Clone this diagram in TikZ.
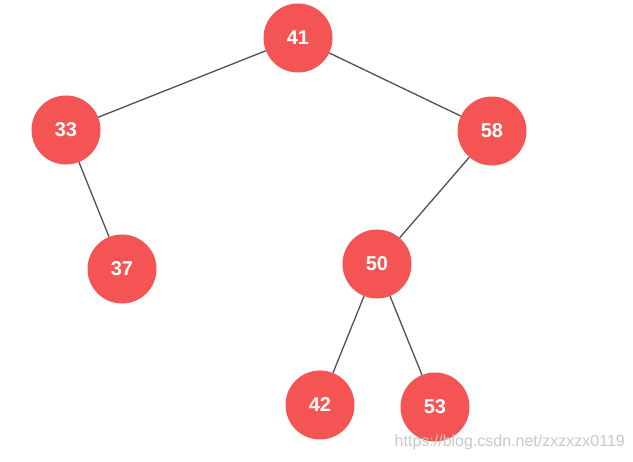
\documentclass[tikz,border=0pt]{standalone}
\usepackage{fontspec}
\setmainfont{Liberation Sans}
\definecolor{nodered}{RGB}{245,84,84}
\definecolor{edgegray}{RGB}{80,80,80}
\definecolor{wmgray}{RGB}{200,200,200}
\begin{document}
\begin{tikzpicture}[x=1pt,y=-1pt,
  tnode/.style={circle,fill=nodered,draw=none,minimum size=69pt,inner sep=0pt,
    text=white,font=\fontsize{20}{24}\selectfont\bfseries},
  edge/.style={draw=edgegray,line width=1.3pt}]
\useasboundingbox (0,0) rectangle (633,462);
\fill[white] (0,0) rectangle (633,462);
\node[tnode] (n41) at (298,38) {41};
\node[tnode] (n33) at (66,130) {33};
\node[tnode] (n58) at (492,131) {58};
\node[tnode] (n37) at (122,269) {37};
\node[tnode] (n50) at (377,264) {50};
\node[tnode] (n42) at (320,405) {42};
\node[tnode] (n53) at (435,407) {53};
\begin{scope}[on background layer/.try]
\end{scope}
\path[edge] (n41) -- (n33);
\path[edge] (n41) -- (n58);
\path[edge] (n33) -- (n37);
\path[edge] (n58) -- (n50);
\path[edge] (n50) -- (n42);
\path[edge] (n50) -- (n53);
\node[anchor=east,text=wmgray,font=\fontsize{16}{18}\selectfont,inner sep=0pt] (wm) at (625,442) {https://blog.csdn.net/zxzxzx0119};
\end{tikzpicture}
\end{document}
